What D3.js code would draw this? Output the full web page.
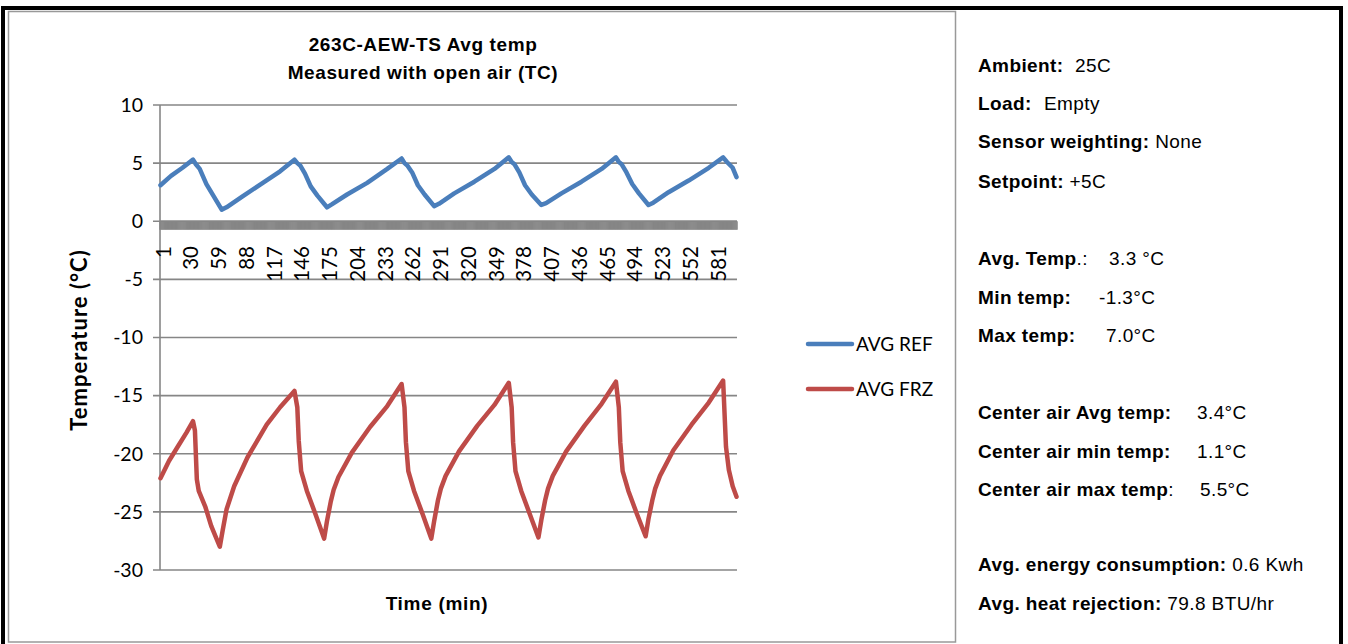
<!DOCTYPE html>
<html>
<head>
<meta charset="utf-8">
<script src="https://cdn.jsdelivr.net/npm/d3@7"></script>
<style>
  body { margin: 0; background: #fff; }
  svg { display: block; }
  text { white-space: pre; }
</style>
</head>
<body>
<div id="chart"></div>
<script>
// ---- data ----
const minutes = d3.range(1, 604);          // category axis: minute 1 .. 603
const labelStep = 29;                       // Excel shows every 29th label
const yTicks = [10, 5, 0, -5, -10, -15, -20, -25, -30];

// AVG REF (blue) - minute / temp
const refMin = [1, 12, 24, 35, 38, 42, 49, 57, 65, 70, 86, 106, 126, 141,
  144, 147, 152, 158, 165, 175, 180, 196, 217, 238, 253,
  256, 259, 264, 270, 277, 287, 292, 308, 329, 350, 365,
  368, 371, 376, 382, 389, 399, 404, 420, 441, 462, 477,
  480, 483, 488, 494, 501, 511, 516, 532, 553, 574, 589,
  593, 599, 603];
const refTemp = [3.1, 3.9, 4.6, 5.3, 4.9, 4.5, 3.2, 2.1, 1.0, 1.2, 2.1, 3.2, 4.3, 5.3,
  5.0, 4.8, 4.1, 3.0, 2.2, 1.2, 1.45, 2.3, 3.3, 4.5, 5.4,
  5.0, 4.8, 4.2, 3.1, 2.3, 1.3, 1.5, 2.4, 3.4, 4.5, 5.5,
  5.1, 4.9, 4.2, 3.1, 2.3, 1.4, 1.55, 2.4, 3.4, 4.5, 5.5,
  5.1, 4.9, 4.2, 3.2, 2.4, 1.4, 1.6, 2.5, 3.5, 4.6, 5.5,
  5.1, 4.6, 3.8];

// AVG FRZ (red) - minute / temp
const frzMin = [1, 10, 19, 28, 35, 37, 39, 41, 48, 54, 63, 66, 70, 78, 92, 112, 126, 141,
  144, 145.5, 148, 154, 163, 172, 175, 179, 182, 187, 201, 220, 238, 253,
  256, 257.5, 260, 266, 275, 284, 287, 291, 294, 299, 313, 332, 350, 365,
  368, 369.5, 372, 378, 387, 396, 399, 403, 406, 411, 425, 444, 462, 477,
  480, 481.5, 484, 490, 499, 508, 511, 515, 518, 523, 537, 556, 574, 589,
  592, 595, 599, 603];
const frzTemp = [-22.1, -20.6, -19.4, -18.2, -17.2, -18.0, -22.2, -23.2, -24.6, -26.2, -28.0, -26.6, -24.8, -22.8, -20.3, -17.5, -16.0, -14.6,
  -16.0, -18.9, -21.5, -23.2, -25.2, -27.3, -25.8, -24.1, -23.1, -22.0, -19.9, -17.7, -15.9, -14.0,
  -16.0, -19.0, -21.5, -23.2, -25.2, -27.3, -25.8, -24.0, -23.0, -21.9, -19.8, -17.6, -15.8, -13.9,
  -16.0, -19.0, -21.5, -23.2, -25.2, -27.2, -25.7, -24.0, -23.0, -21.9, -19.8, -17.6, -15.7, -13.8,
  -16.0, -19.0, -21.5, -23.2, -25.2, -27.1, -25.6, -24.0, -23.0, -21.9, -19.7, -17.5, -15.6, -13.7,
  -19.4, -21.4, -22.8, -23.7];

const seriesNames = ["AVG REF", "AVG FRZ"];
const seriesColors = ["#4a7ebb", "#be4b48"];

// side panel text: bold part, plain part, value
const infoBold = ["Ambient:", "Load:", "Sensor weighting:", "Setpoint:",
  "Avg. Temp", "Min temp:", "Max temp:",
  "Center air Avg temp:", "Center air min temp:", "Center air max temp",
  "Avg. energy consumption:", "Avg. heat rejection:"];
const infoPlain = ["", "", "", "", ".:", "", "", "", "", ":", "", ""];
const infoValue = ["25C", "Empty", "None", "+5C",
  "3.3 \u00B0C", "-1.3\u00B0C", "7.0\u00B0C",
  "3.4\u00B0C", "1.1\u00B0C", "5.5\u00B0C",
  "0.6 Kwh", "79.8 BTU/hr"];

function init() {
  const W = 1348, H = 644;
  const svg = d3.select("#chart").append("svg")
    .attr("width", W).attr("height", H);

  // frames
  svg.append("rect").attr("x", 3).attr("y", 8).attr("width", 1338).attr("height", 700)
    .attr("fill", "#fff").attr("stroke", "#000").attr("stroke-width", 4);
  svg.append("rect").attr("x", 8.5).attr("y", 11.5).attr("width", 947).attr("height", 630.5)
    .attr("fill", "#fff").attr("stroke", "#999").attr("stroke-width", 1.5);

  const left = 160, right = 737, top = 105, bottom = 570;

  const x = d3.scaleBand().domain(minutes).range([left, right]).padding(0);
  const xc = m => x(1) + (m - 0.5) * x.step();   // centre of minute m
  const y = d3.scaleLinear().domain([-30, 10]).range([bottom, top]);

  const grey = "#868686";
  const g = svg.append("g");

  // gridlines + y ticks
  g.selectAll(".grid").data(yTicks).enter().append("line")
    .attr("x1", left - 7).attr("x2", right)
    .attr("y1", d => y(d)).attr("y2", d => y(d))
    .attr("stroke", grey).attr("stroke-width", 1.6);

  g.append("line").attr("x1", left).attr("x2", left).attr("y1", top).attr("y2", bottom)
    .attr("stroke", grey).attr("stroke-width", 1.6);

  g.selectAll(".ylab").data(yTicks).enter().append("text")
    .attr("x", left - 17).attr("y", d => y(d)).attr("dy", "0.35em")
    .attr("text-anchor", "end")
    .style("font-family", "Lato").style("font-size", "19.5px").style("fill", "#000")
    .text(d => d);

  // category axis at y=0 : one tick per category boundary -> dense band
  const y0 = y(0);
  const bounds = minutes.map(m => x(m)).concat([right]);
  g.selectAll(".xt").data(bounds).enter().append("line")
    .attr("x1", d => d).attr("x2", d => d)
    .attr("y1", y0).attr("y2", y0 + 8.5)
    .attr("stroke", grey).attr("stroke-width", 1.5);
  g.append("line").attr("x1", left).attr("x2", right).attr("y1", y0).attr("y2", y0)
    .attr("stroke", grey).attr("stroke-width", 1.6);

  const xLabels = minutes.filter((m, i) => i % labelStep === 0);
  g.selectAll(".xlab").data(xLabels).enter().append("text")
    .attr("transform", d => `translate(${xc(d) + 3},246) rotate(-90)`)
    .attr("dy", "0.35em").attr("text-anchor", "end")
    .style("font-family", "Lato").style("font-size", "20.5px").style("fill", "#000")
    .text(d => d);

  // lines
  const line = d3.line().x(d => xc(d[0])).y(d => y(d[1]));
  const refPts = refMin.map((m, i) => [m, refTemp[i]]);
  const frzPts = frzMin.map((m, i) => [m, frzTemp[i]]);
  [refPts, frzPts].forEach((pts, i) => {
    g.append("path").datum(pts).attr("d", line)
      .attr("fill", "none").attr("stroke", seriesColors[i])
      .attr("stroke-width", 4.5).attr("stroke-linejoin", "round").attr("stroke-linecap", "round");
  });

  // titles
  const arial = "Liberation Sans, Arial";
  const title = svg.append("text").attr("text-anchor", "middle")
    .style("font-family", arial).style("font-weight", "bold")
    .style("font-size", "19px").style("letter-spacing", "0.6px");
  title.append("tspan").attr("x", 423).attr("y", 51).text("263C-AEW-TS Avg temp");
  title.append("tspan").attr("x", 423).attr("y", 79).text("Measured with open air (TC)");

  svg.append("text").attr("x", 437).attr("y", 610).attr("text-anchor", "middle")
    .style("font-family", arial).style("font-weight", "bold")
    .style("font-size", "19px").style("letter-spacing", "0.7px").text("Time (min)");

  svg.append("text").attr("transform", "translate(87,340) rotate(-90)")
    .attr("text-anchor", "middle")
    .style("font-family", "Lato").style("font-weight", "bold").style("font-size", "22px")
    .style("letter-spacing", "1px")
    .text("Temperature (\u00B0C)");

  // legend
  const leg = svg.append("g").selectAll("g").data(seriesNames).enter().append("g")
    .attr("transform", (d, i) => `translate(808,${344 + i * 45})`);
  leg.append("line").attr("x1", 0).attr("x2", 44)
    .attr("stroke", (d, i) => seriesColors[i]).attr("stroke-width", 4.5)
    .attr("stroke-linecap", "round");
  leg.append("text").attr("x", 48).attr("dy", "0.35em")
    .style("font-family", "Lato").style("font-size", "19px")
    .text(d => d);

  // side panel (null = value follows label after one space)
  const infoY = [72, 110, 148, 188, 265, 304, 342, 419, 458, 496, 571, 610];
  const valueX = [1075, 1044, null, null, 1109, 1099, 1106, 1197, 1197, 1200, null, null];
  const info = svg.append("g").selectAll("text").data(infoBold).enter().append("text")
    .attr("x", 978).attr("y", (d, i) => infoY[i])
    .style("font-family", arial).style("font-size", "19px").style("letter-spacing", "0.4px");
  info.append("tspan").style("font-weight", "bold").text(d => d);
  info.append("tspan").text((d, i) => infoPlain[i]);
  info.append("tspan")
    .attr("x", (d, i) => valueX[i])
    .text((d, i) => (valueX[i] === null ? " " : "") + infoValue[i]);
}
window.onload = init;
</script>
</body>
</html>
